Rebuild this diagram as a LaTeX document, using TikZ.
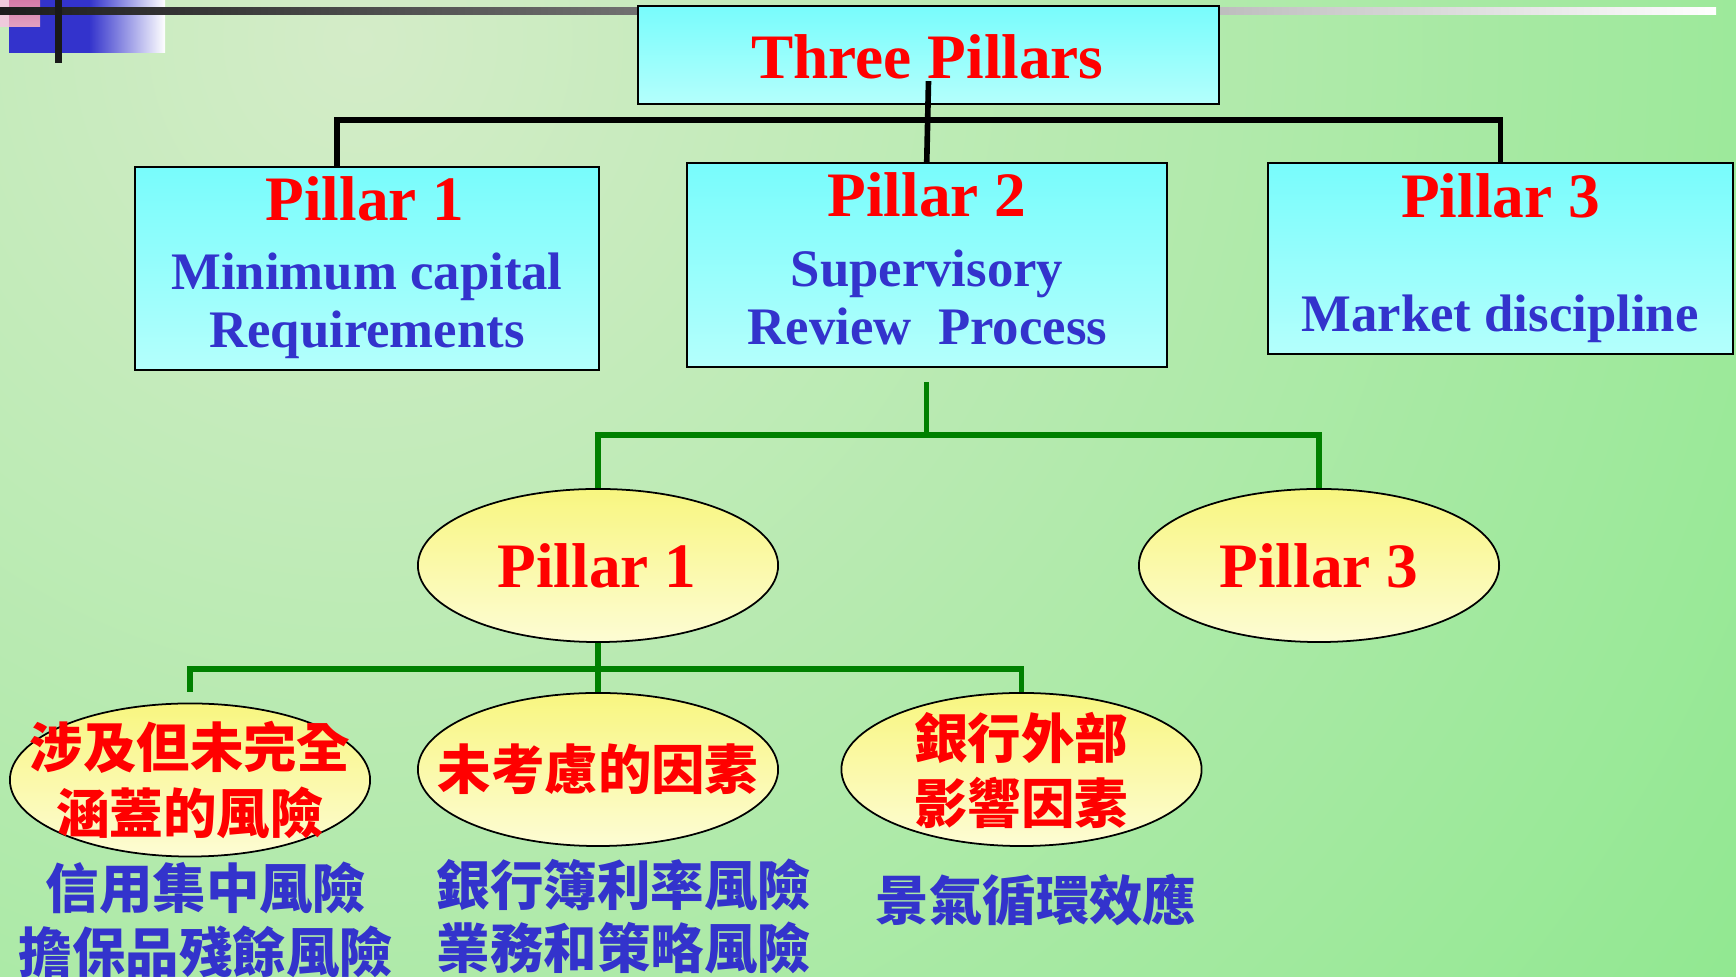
\documentclass[tikz,border=0pt]{standalone}
\usepackage{fontspec}
\setmainfont{Liberation Serif}
\newfontfamily\cjkfont{Noto Sans CJK TC}
\usetikzlibrary{shapes.geometric, calc}
\definecolor{myRed}{RGB}{255,0,0}
\definecolor{myBlue}{RGB}{51,51,204}
\definecolor{myGreen}{RGB}{0,128,0}
\definecolor{boxTop}{RGB}{120,252,252}
\definecolor{boxBot}{RGB}{180,255,252}
\definecolor{ovalTop}{RGB}{248,246,128}
\definecolor{ovalBot}{RGB}{253,252,212}
\definecolor{bgPale}{RGB}{212,236,200}
\definecolor{bgGreen}{RGB}{144,232,144}
\definecolor{myPink}{RGB}{214,122,168}

\begin{document}
\begin{tikzpicture}[x=0.01cm, y=-0.01cm,
	pbox/.style={draw, line width=0.6pt, top color=boxTop, bottom color=boxBot, inner sep=0pt},
	oval/.style={ellipse, draw, line width=0.5pt, top color=ovalTop, bottom color=ovalBot, minimum width=3.6cm, minimum height=1.53cm, inner sep=0pt},
	head/.style={anchor=base, text=myRed, font=\bfseries\fontsize{18}{20}\selectfont},
	sub/.style={anchor=base, text=myBlue, font=\bfseries\fontsize{15}{17}\selectfont},
	redcjk/.style={text=myRed, align=center, font=\cjkfont\bfseries\fontsize{15.2}{18.5}\selectfont},
	bluecjk/.style={text=myBlue, align=center, font=\cjkfont\bfseries\fontsize{15.2}{18}\selectfont},
	blackline/.style={line width=1.6pt},
	greenline/.style={myGreen, line width=1.5pt}]
				% Background
				\useasboundingbox (0,0) rectangle (1736,977);
				\fill[bgGreen] (0,0) rectangle (1736,977);
				\begin{scope}
					\clip (0,0) rectangle (1736,977);
					\shade[inner color=bgPale, outer color=bgGreen] (360,40) circle (1700);
				\end{scope}
				% Corner mark
				\fill[myBlue] (9,0) rectangle (89,53);
				\shade[left color=myBlue, right color=white] (89,0) rectangle (165,53);
				\fill[myPink!40] (0,0) rectangle (9,27);
				\shade[top color=myPink, bottom color=myPink!70] (9,0) rectangle (40,27);
				\shade[left color=black!89, right color=white] (0,8) rectangle (1716,15);
				\fill[black!90] (55,0) rectangle (62,63);

				% Three pillars
				\node[pbox, minimum width=5.81cm, minimum height=0.98cm] (title) at (928.5,55) {};
				\node[head] (titletxt) at (927.5,79) {Three Pillars};
				\node[pbox, minimum width=4.64cm, minimum height=2.03cm] (p1) at (367,268.5) {};
				\node[pbox, minimum width=4.795cm, minimum height=2.04cm] (p2) at (926.75,265) {};
				\node[pbox, minimum width=4.65cm, minimum height=1.91cm] (p3) at (1500.5,258.5) {};
				\node[head] (p1h) at (365,221) {Pillar 1};
				\node[sub] (p1a) at (367,290) {Minimum capital};
				\node[sub] (p1b) at (367,348) {Requirements};
				\node[head] (p2h) at (927,217) {Pillar 2};
				\node[sub] (p2a) at (927,287) {Supervisory};
				\node[sub] (p2b) at (927.5,345) {Review\ \ Process};
				\node[head] (p3h) at (1500.5,218) {Pillar 3};
				\node[sub] (p3a) at (1500,332) {Market discipline};

				% Pillar 2 split
				\node[oval] (q1) at (598,565.5) {};
				\node[oval] (q3) at (1319,565.5) {};
				\node[head] (q1t) at (597,588) {Pillar 1};
				\node[head] (q3t) at (1319,588) {Pillar 3};
				\node[oval] (r1) at (190,780) {};
				\node[oval] (r2) at (598,769.5) {};
				\node[oval] (r3) at (1021.5,769.5) {};
				\node[redcjk] (r1t) at (190,780) {涉及但未完全\\涵蓋的風險};
				\node[redcjk] (r2t) at (598,769) {未考慮的因素};
				\node[redcjk] (r3t) at (1021,770) {銀行外部\\影響因素};
				\node[bluecjk] (b1) at (206,920) {信用集中風險\\擔保品殘餘風險};
				\node[bluecjk] (b2) at (624,916.5) {銀行簿利率風險\\業務和策略風險};
				\node[bluecjk] (b3) at (1036,900) {景氣循環效應};

				% Connectors
				\draw[blackline] ($(title.south)+(0,-24)$) -- (p2.north);
				\draw[blackline] ($(p1.north)+(-30,0)$) -- ++(0,-46) -| (p3.north);
				\draw[greenline] ($(p2.south)+(0,14)$) -- ++(0,53) coordinate (gjoin);
				\draw[greenline] (q1.north) |- (gjoin) -| (q3.north);
				\draw[greenline] (q1.south) -- ++(0,26) coordinate (hjoin);
				\draw[greenline] ($(r1.north)+(0,-11)$) |- (hjoin) -| (r3.north);
				\draw[greenline] (hjoin) -- (r2.north);
			\end{tikzpicture}
\end{document}
